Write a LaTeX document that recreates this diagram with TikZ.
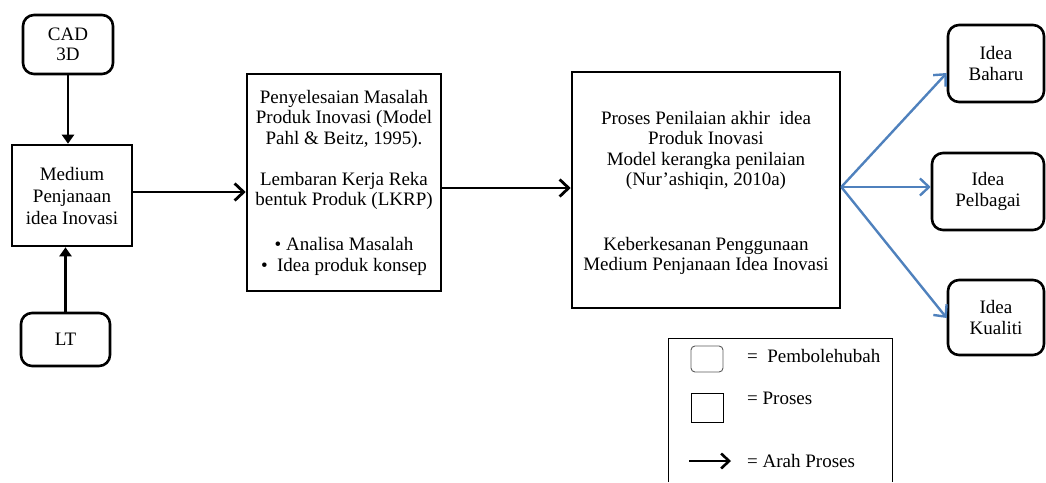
\documentclass[tikz,border=0pt]{standalone}
\usepackage{fontspec}
\setmainfont{Liberation Serif}
\usetikzlibrary{arrows.meta}
\definecolor{wordblue}{RGB}{79,129,189}
\definecolor{iconborder}{RGB}{90,90,90}
\tikzset{
  txt/.style={inner sep=0pt, align=center, font=\fontsize{19}{20.5}\selectfont},
  base/.style={txt, draw=black, line width=2.6pt},
  varbox/.style={base, rounded corners=11pt},
  procbox/.style={base},
  arrh/.style={line width=2.8pt, -{Straight Barb[length=9pt,width=17pt]}},
  arrv/.style={line width=2.8pt, -{Triangle[length=9pt,width=12pt]}},
  arrb/.style={draw=wordblue, line width=2.4pt, -{Straight Barb[length=9pt,width=17pt]}},
  legtext/.style={anchor=west, inner sep=0pt, font=\fontsize{19}{20.5}\selectfont},
  legframe/.style={draw=black, line width=0.9pt},
}
\begin{document}
\begin{tikzpicture}[x=1pt, y=-1pt]
\useasboundingbox (0,0) rectangle (1046,482);

% variables
\node[varbox, minimum width=90pt, minimum height=59pt] (cad) at (68,44.5) {CAD\\3D};
\node[varbox, minimum width=89pt, minimum height=53pt] (lt) at (65.5,339.5) {LT};
\node[varbox, minimum width=96pt, minimum height=77pt] (baharu) at (996,63.5) {Idea\\Baharu};
\node[varbox, minimum width=112pt, minimum height=77pt] (pelbagai) at (988,191.5) {Idea\\Pelbagai};
\node[varbox, minimum width=96pt, minimum height=75pt] (kualiti) at (996,317.5) {Idea\\Kualiti};

% processes
\node[procbox, minimum width=120pt, minimum height=101pt, font=\fontsize{19}{22}\selectfont] (medium) at (72,195.5)
  {Medium\\Penjanaan\\idea Inovasi};
\node[procbox, minimum width=194pt, minimum height=217pt] (pe) at (344,182.5)
  {Penyelesaian Masalah\\Produk Inovasi (Model\\Pahl \& Beitz, 1995).\\[20.5pt]
   Lembaran Kerja Reka\\bentuk Produk (LKRP)\\[24.5pt]
   \textbullet\ Analisa Masalah\\\textbullet\ \ Idea produk konsep};
\node[procbox, minimum width=268pt, minimum height=236pt] (proses) at (706,190) {};
\node[txt] (prosestext) at ([yshift=-3pt]proses.center)
  {Proses Penilaian akhir\ \ idea\\Produk Inovasi\\Model kerangka penilaian\\(Nur'ashiqin, 2010a)\\[44pt]
   Keberkesanan Penggunaan\\Medium Penjanaan Idea Inovasi};

% connectors
\draw[arrv] (cad.south) -- (cad.south |- medium.north);
\draw[arrv] (lt.north) -- (lt.north |- medium.south);
\draw[arrh] ([yshift=3.5pt]medium.east) -- ([yshift=3.5pt]medium.east -| pe.west);
\draw[arrh] ([yshift=2pt]proses.west -| pe.east) -- ([yshift=2pt]proses.west);
\coordinate (src) at ([yshift=3pt]proses.east);
\draw[arrb] (src) -- ([yshift=-9.5pt]baharu.west);
\draw[arrb] (src) -- (src -| pelbagai.west);
\draw[arrb] (src) -- ([yshift=-0.5pt]kualiti.west);

% legend
\draw[legframe] (668,482) -- (668,338) -- (892,338) -- (892,482);
\node[draw=iconborder, line width=0.9pt, rounded corners=4pt, minimum width=32pt, minimum height=26pt, inner sep=0pt] (legvar) at (707,359) {};
\node[draw=black, line width=0.9pt, minimum width=32pt, minimum height=29pt, inner sep=0pt] (legproc) at (707,407.5) {};
\coordinate (legas) at (689,461);
\coordinate (legae) at (731,461);
\draw[line width=2.6pt, -{Straight Barb[length=8pt,width=15pt]}] (legas) -- (legae);
\node[legtext] (t1) at (747,356) {=\ \ Pembolehubah};
\node[legtext] (t2) at (747,398) {= Proses};
\node[legtext] (t3) at (747,461) {= Arah Proses};
\end{tikzpicture}
\end{document}
